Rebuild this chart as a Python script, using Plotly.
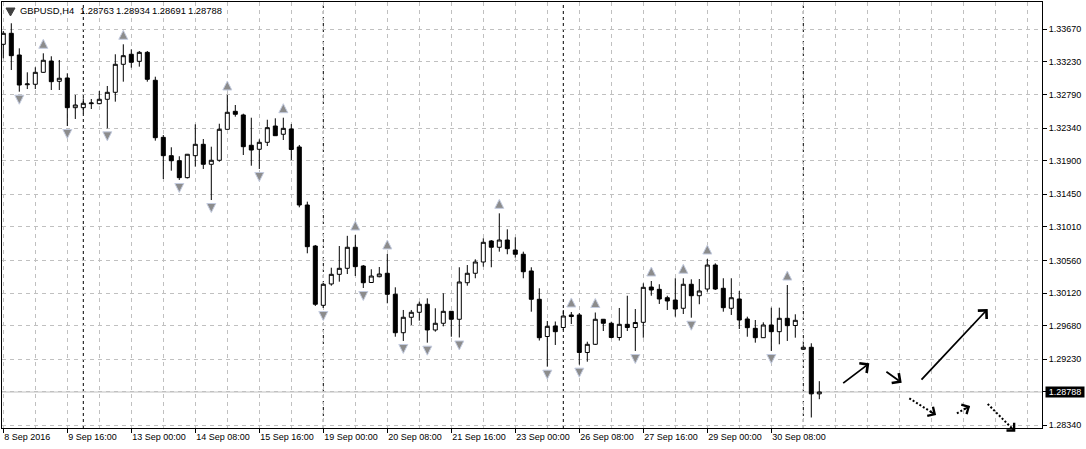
import math
import plotly.graph_objects as go

# ---------------- data ----------------
symbol_text = "GBPUSD,H4"
header_ohlc = ["1.28763", "1.28934", "1.28691", "1.28788"]

opens = [1.33468, 1.33616, 1.33324, 1.32924, 1.32930, 1.33091, 1.33243, 1.32970, 1.33015, 1.32615,
         1.32615, 1.32669, 1.32669, 1.32728, 1.32822, 1.33199, 1.33334, 1.33239, 1.33360, 1.32984,
         1.32216, 1.31969, 1.31901, 1.31673, 1.31969, 1.32122, 1.31853, 1.31907, 1.32324, 1.32566,
         1.32517, 1.32109, 1.32055, 1.32149, 1.32368, 1.32257, 1.32328, 1.32086, 1.31305, 1.30753,
         1.29955, 1.30242, 1.30372, 1.30453, 1.30736, 1.30484, 1.30262, 1.30340, 1.30386, 1.30103,
         1.29586, 1.29794, 1.29861, 1.29969, 1.29623, 1.29713, 1.29874, 1.29767, 1.30259, 1.30386,
         1.30538, 1.30821, 1.30736, 1.30834, 1.30699, 1.30642, 1.30417, 1.30036, 1.29535, 1.29676,
         1.29656, 1.29825, 1.29825, 1.29320, 1.29430, 1.29767, 1.29713, 1.29522, 1.29699, 1.29656,
         1.29726, 1.30201, 1.30170, 1.30057, 1.30026, 1.29915, 1.30238, 1.30084, 1.30174, 1.30497,
         1.30184, 1.29915, 1.30040, 1.29771, 1.29645, 1.29519, 1.29690, 1.29600, 1.29780, 1.29683,
         1.29363, 1.29390, 1.28763]
highs = [1.33647, 1.33751, 1.33414, 1.33091, 1.33159, 1.33347, 1.33307, 1.33257, 1.33078, 1.32786,
         1.32741, 1.32732, 1.32840, 1.32907, 1.33334, 1.33468, 1.33401, 1.33378, 1.33378, 1.33032,
         1.32247, 1.32082, 1.31961, 1.31992, 1.32391, 1.32193, 1.32090, 1.32399, 1.32786, 1.32651,
         1.32534, 1.32480, 1.32189, 1.32453, 1.32472, 1.32480, 1.32395, 1.32113, 1.31350, 1.30767,
         1.30255, 1.30461, 1.30753, 1.30890, 1.30901, 1.30497, 1.30440, 1.30471, 1.30646, 1.30197,
         1.29892, 1.29892, 1.30004, 1.30049, 1.29915, 1.30117, 1.29878, 1.30467, 1.30497, 1.30574,
         1.30857, 1.30834, 1.31193, 1.30978, 1.30870, 1.30677, 1.30467, 1.30184, 1.29744, 1.29737,
         1.29892, 1.29865, 1.29851, 1.29465, 1.29858, 1.29771, 1.29734, 1.29919, 1.30084, 1.29905,
         1.30251, 1.30282, 1.30238, 1.30084, 1.30319, 1.30319, 1.30305, 1.30309, 1.30578, 1.30520,
         1.30319, 1.30319, 1.30148, 1.29802, 1.29757, 1.29726, 1.29923, 1.29923, 1.30228, 1.29834,
         1.29430, 1.29444, 1.28934]
lows = [1.33280, 1.33122, 1.32830, 1.32866, 1.32866, 1.33086, 1.32853, 1.32853, 1.32368, 1.32463,
        1.32539, 1.32597, 1.32661, 1.32337, 1.32696, 1.32965, 1.33153, 1.33167, 1.32965, 1.32171,
        1.31655, 1.31767, 1.31642, 1.31662, 1.31821, 1.31790, 1.31372, 1.31888, 1.32321, 1.32494,
        1.31978, 1.31834, 1.31790, 1.32099, 1.32234, 1.32180, 1.31911, 1.31274, 1.30655, 1.29946,
        1.29919, 1.30219, 1.30273, 1.30376, 1.30349, 1.30188, 1.30259, 1.30332, 1.29982, 1.29532,
        1.29475, 1.29690, 1.29748, 1.29452, 1.29600, 1.29672, 1.29532, 1.29522, 1.30219, 1.30319,
        1.30475, 1.30467, 1.30677, 1.30642, 1.30596, 1.30319, 1.29869, 1.29481, 1.29129, 1.29421,
        1.29623, 1.29703, 1.29156, 1.29196, 1.29421, 1.29609, 1.29511, 1.29481, 1.29609, 1.29340,
        1.29519, 1.30084, 1.29973, 1.29892, 1.29802, 1.29838, 1.29788, 1.29969, 1.30138, 1.30161,
        1.29869, 1.29825, 1.29636, 1.29532, 1.29452, 1.29515, 1.29340, 1.29430, 1.29475, 1.29519,
        1.29353, 1.28445, 1.28691]
closes = [1.33616, 1.33315, 1.32920, 1.32934, 1.33091, 1.33253, 1.32965, 1.33011, 1.32615, 1.32651,
          1.32674, 1.32678, 1.32728, 1.32822, 1.33199, 1.33315, 1.33226, 1.33360, 1.32997, 1.32211,
          1.31969, 1.31901, 1.31673, 1.31988, 1.32122, 1.31853, 1.31907, 1.32324, 1.32553, 1.32526,
          1.32090, 1.32045, 1.32149, 1.32346, 1.32238, 1.32337, 1.32052, 1.31305, 1.30744, 1.29969,
          1.30238, 1.30372, 1.30453, 1.30736, 1.30475, 1.30259, 1.30349, 1.30376, 1.30103, 1.29586,
          1.29794, 1.29861, 1.29969, 1.29623, 1.29713, 1.29874, 1.29767, 1.30269, 1.30386, 1.30538,
          1.30803, 1.30736, 1.30834, 1.30717, 1.30642, 1.30407, 1.30036, 1.29519, 1.29672, 1.29600,
          1.29811, 1.29804, 1.29320, 1.29430, 1.29767, 1.29713, 1.29522, 1.29699, 1.29656, 1.29724,
          1.30197, 1.30161, 1.30040, 1.30013, 1.29905, 1.30238, 1.30084, 1.30148, 1.30497, 1.30174,
          1.29923, 1.30057, 1.29757, 1.29654, 1.29519, 1.29690, 1.29600, 1.29780, 1.29681, 1.29753,
          1.29390, 1.28763, 1.28788]
bars = list(range(len(opens)))

tick_bars = [0, 8, 16, 24, 32, 40, 48, 56, 64, 72, 80, 88, 96]
tick_labels = ["8 Sep 2016", "9 Sep 16:00", "13 Sep 00:00", "14 Sep 08:00", "15 Sep 16:00",
               "19 Sep 00:00", "20 Sep 08:00", "21 Sep 16:00", "23 Sep 00:00", "26 Sep 08:00",
               "27 Sep 16:00", "29 Sep 00:00", "30 Sep 08:00"]
week_separators = [10, 40, 70, 100]

price_ticks = [1.33670, 1.33230, 1.32790, 1.32340, 1.31900, 1.31450, 1.31010, 1.30560,
               1.30120, 1.29680, 1.29230, 1.28790, 1.28340]
price_tick_labels = ["1.33670", "1.33230", "1.32790", "1.32340", "1.31900", "1.31450", "1.31010",
                     "1.30560", "1.30120", "1.29680", "1.29230", "", "1.28340"]
last_price = 1.28788

fractal_up = [5, 15, 28, 35, 44, 48, 62, 71, 74, 81, 85, 88, 98]
fractal_down = [2, 8, 13, 22, 26, 32, 40, 45, 50, 53, 57, 68, 72, 79, 86, 96]

# hand-drawn arrow objects (bar index, price)
solid_x0 = [104.8, 110.2, 114.6]
solid_y0 = [1.28892, 1.29075, 1.28936]
solid_x1 = [108.25, 112.3, 123.05]
solid_y1 = [1.29174, 1.28913, 1.29905]
dotted_x0 = [113.25, 119.2, 123.05]
dotted_y0 = [1.28703, 1.28501, 1.28627]
dotted_x1 = [116.6, 120.85, 126.5]
dotted_y1 = [1.28478, 1.28600, 1.28254]

# ---------------- layout constants ----------------
W, H = 1086, 449
ML, MR, MT, MB = 2, 44, 2, 21
PX = 0.0001346                    # price per pixel
BAR_PX = 8                        # pixels per bar
X_RANGE = [-0.1625, 129.8375]
Y_RANGE = [1.283035, 1.340375]
FONT = "Liberation Sans, Arial, sans-serif"
GRID = "#c0c0c0"

fig = go.Figure()

fig.add_trace(go.Candlestick(
    x=bars, open=opens, high=highs, low=lows, close=closes,
    increasing=dict(fillcolor="white", line=dict(color="black", width=1)),
    decreasing=dict(fillcolor="black", line=dict(color="black", width=1)),
    whiskerwidth=0, showlegend=False, hoverinfo="skip"))

fig.add_trace(go.Scatter(
    x=fractal_up, y=[highs[k] + 14 * PX for k in fractal_up], mode="markers",
    marker=dict(symbol="arrow-up", size=9, color="#8c8c8c", line=dict(color="#c4cce0", width=1)),
    showlegend=False, hoverinfo="skip", cliponaxis=False))
fig.add_trace(go.Scatter(
    x=fractal_down, y=[lows[k] - 12.5 * PX for k in fractal_down], mode="markers",
    marker=dict(symbol="arrow-down", size=9, color="#8c8c8c", line=dict(color="#c4cce0", width=1)),
    showlegend=False, hoverinfo="skip", cliponaxis=False))

# dotted arrow shafts + heads
for x0, y0, x1, y1 in zip(dotted_x0, dotted_y0, dotted_x1, dotted_y1):
    fig.add_trace(go.Scatter(x=[x0, x1], y=[y0, y1], mode="lines",
                             line=dict(color="black", width=2, dash="2px,2px"),
                             showlegend=False, hoverinfo="skip"))
    length_px = math.hypot((x1 - x0) * BAR_PX, (y1 - y0) / PX)
    frac = min(1.0, 9.0 / length_px)
    tx = x1 - frac * (x1 - x0)
    ty = y1 - frac * (y1 - y0)
    fig.add_annotation(x=x1, y=y1, ax=tx, ay=ty, xref="x", yref="y", axref="x", ayref="y",
                       text="", showarrow=True, arrowhead=4, arrowsize=1.3, arrowwidth=1.6,
                       arrowcolor="black")

for x0, y0, x1, y1 in zip(solid_x0, solid_y0, solid_x1, solid_y1):
    fig.add_annotation(x=x1, y=y1, ax=x0, ay=y0, xref="x", yref="y", axref="x", ayref="y",
                       text="", showarrow=True, arrowhead=4, arrowsize=1.3, arrowwidth=1.8,
                       arrowcolor="black")

# weekly separators
for s in week_separators:
    fig.add_shape(type="line", x0=s, x1=s, xref="x", y0=0, y1=1, yref="paper",
                  line=dict(color="black", width=1, dash="3px,3px"), layer="below")

# last price line
fig.add_shape(type="line", x0=0, x1=1, xref="paper", y0=last_price, y1=last_price, yref="y",
              line=dict(color=GRID, width=1), layer="below")

fig.add_annotation(x=1, xref="paper", xshift=3, xanchor="left", y=last_price, yref="y",
                   yanchor="middle", text=f"{last_price:.5f}", showarrow=False,
                   font=dict(family=FONT, size=9, color="white"), bgcolor="black",
                   width=38, height=10, borderpad=0)

plot_w = W - ML - MR
plot_h = H - MT - MB


def px_to_paper(px, py):
    return (px - ML) / plot_w, 1 - (py - MT) / plot_h


# header: symbol then the four OHLC values, each anchored at its own position
hx, hy = px_to_paper(18, 10.5)
fig.add_annotation(x=hx, y=hy, xref="paper", yref="paper", xanchor="left", yanchor="middle",
                   text=symbol_text, showarrow=False,
                   font=dict(family=FONT, size=9.4, color="black"))
for i, val in enumerate(header_ohlc):
    vx, vy = px_to_paper(78.3 + 35.8 * i, 10.5)
    fig.add_annotation(x=vx, y=vy, xref="paper", yref="paper", xanchor="left", yanchor="middle",
                       text=val, showarrow=False,
                       font=dict(family=FONT, size=9.4, color="black"))

# small header icon
ix0, iy0 = px_to_paper(6, 8)
ix1, iy1 = px_to_paper(15, 8)
ixm, iym = px_to_paper(10.5, 16)
fig.add_shape(type="path", xref="paper", yref="paper",
              path=f"M {ix0},{iy0} L {ix1},{iy1} L {ixm},{iym} Z",
              fillcolor="#404040", line=dict(color="#404040", width=1))

fig.update_layout(
    width=W, height=H, autosize=False,
    margin=dict(l=ML, r=MR, t=MT, b=MB, pad=0),
    paper_bgcolor="white", plot_bgcolor="white",
    boxgap=0.5, boxgroupgap=0,
    showlegend=False,
    font=dict(family=FONT, size=9, color="black"),
    xaxis=dict(
        range=X_RANGE, tickmode="array", tickvals=tick_bars, ticktext=tick_labels,
        ticks="outside", ticklen=4, tickcolor="black", ticklabelposition="outside right",
        showline=True, mirror=True, linecolor="black", linewidth=1,
        showgrid=True, gridcolor=GRID, griddash="4px,4px", gridwidth=1, zeroline=False,
        minor=dict(tickmode="linear", tick0=0, dtick=4, showgrid=True, gridcolor=GRID,
                   griddash="4px,4px", gridwidth=1, ticks=""),
        rangeslider=dict(visible=False), tickfont=dict(family=FONT, size=9, color="black"),
        fixedrange=True),
    yaxis=dict(
        range=Y_RANGE, side="right", tickmode="array", tickvals=price_ticks,
        ticktext=price_tick_labels, ticks="outside", ticklen=4, tickcolor="black",
        showline=True, mirror=True, linecolor="black", linewidth=1,
        showgrid=True, gridcolor=GRID, griddash="4px,4px", gridwidth=1, zeroline=False,
        tickfont=dict(family=FONT, size=9, color="black"), fixedrange=True),
)

fig.write_html("out.html", config={"displayModeBar": False},
               post_script="document.body.style.margin='0px';document.body.style.overflow='hidden';")
